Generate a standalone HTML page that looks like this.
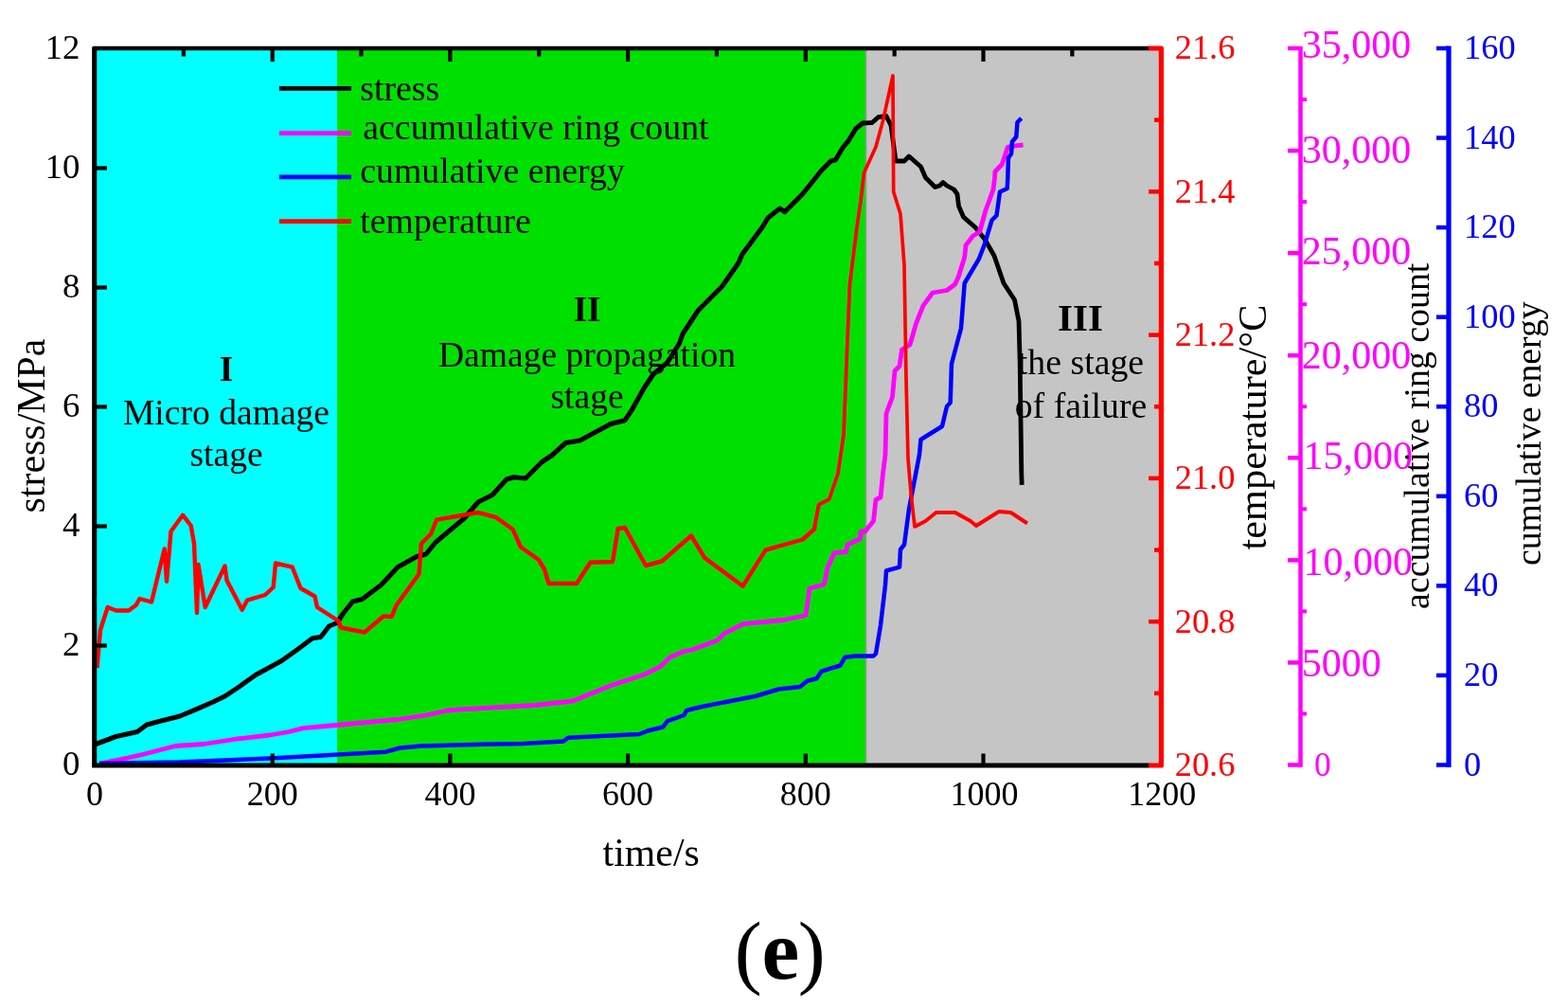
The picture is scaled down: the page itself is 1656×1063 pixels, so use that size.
<!DOCTYPE html>
<html lang="en"><head><meta charset="utf-8"><title>Figure (e)</title>
<style>html,body{margin:0;padding:0;background:#fff}body{width:1656px;height:1063px;overflow:hidden}svg{display:block}text{font-family:"Liberation Serif",serif;}</style></head><body>
<svg width="1656" height="1063" viewBox="0 0 1656 1063">
<rect width="1656" height="1063" fill="#fff"/>
<rect x="100" y="51" width="256" height="756.5" fill="#00ffff"/>
<rect x="356" y="51" width="558.6" height="756.5" fill="#00e000"/>
<rect x="914.6" y="51" width="311.80000000000007" height="756.5" fill="#c5c5c5"/>
<line x1="914.6" y1="51" x2="914.6" y2="807.5" stroke="#8f9a8f" stroke-width="1.5"/>
<text x="239" y="402" font-size="37.5" text-anchor="middle" fill="#000" font-weight="bold" >I</text>
<text x="239" y="448" font-size="37.6" text-anchor="middle" fill="#000" font-weight="normal" >Micro damage</text>
<text x="239" y="492" font-size="37.5" text-anchor="middle" fill="#000" font-weight="normal" >stage</text>
<text x="620" y="339" font-size="37.5" text-anchor="middle" fill="#000" font-weight="bold" >II</text>
<text x="620" y="387" font-size="37.6" text-anchor="middle" fill="#000" font-weight="normal" >Damage propagation</text>
<text x="620" y="431" font-size="37.5" text-anchor="middle" fill="#000" font-weight="normal" >stage</text>
<text x="1141" y="349" font-size="41" text-anchor="middle" fill="#000" font-weight="bold" >III</text>
<text x="1141.5" y="395.2" font-size="37.8" text-anchor="middle" fill="#000" font-weight="normal" >the stage</text>
<text x="1141.5" y="440.7" font-size="37.8" text-anchor="middle" fill="#000" font-weight="normal" >of failure</text>
<line x1="295" y1="93.3" x2="371" y2="93.3" stroke="#000" stroke-width="4.8"/>
<text x="380.3" y="106.4" font-size="37.8" text-anchor="start" fill="#000" font-weight="normal" >stress</text>
<line x1="295" y1="140.7" x2="371" y2="140.7" stroke="#ff00ff" stroke-width="4.8"/>
<text x="383.3" y="146.8" font-size="37.8" text-anchor="start" fill="#000" font-weight="normal" >accumulative ring count</text>
<line x1="295" y1="186.8" x2="371" y2="186.8" stroke="#0000ff" stroke-width="4.8"/>
<text x="380.3" y="192.8" font-size="37.8" text-anchor="start" fill="#000" font-weight="normal" >cumulative energy</text>
<line x1="295" y1="233.7" x2="371" y2="233.7" stroke="#ff0000" stroke-width="4.8"/>
<text x="380.3" y="245.8" font-size="37.8" text-anchor="start" fill="#000" font-weight="normal" >temperature</text>
<defs><clipPath id="cl"><rect x="0" y="0" width="863" height="1063"/></clipPath><clipPath id="cr"><rect x="863" y="0" width="104" height="1063"/></clipPath><clipPath id="cr3"><rect x="967" y="0" width="700" height="1063"/></clipPath><clipPath id="cl2"><rect x="0" y="0" width="914" height="1063"/></clipPath><clipPath id="cr2"><rect x="914" y="0" width="800" height="1063"/></clipPath></defs>
<g clip-path="url(#cl2)"><polyline points="100.5,786 102.5,785 122.5,777.5 145,772.5 155,765 170,761 190,756 207.5,748.7 225,741 237.5,735 252.5,725 270,712.5 297.5,697.5 315,685 330,673.7 338.7,672.5 347.5,661 356,657.5 362.5,647.5 372.5,635 382.5,632.5 402.5,617.5 420,598.7 440,587.5 450,585 460,572.5 490,547.5 505,530 520,522.5 535,506 542.5,503.7 555,505 572.5,487.5 582.5,481 597.5,467.5 612.5,465 645,447.5 660,443.7 667.5,432.5 680,410 690,395 705,382.5 717.5,362.5 721,352.5 737.5,327.5 762.5,302.5 780,277.5 783.7,268.7 805,240 811,230 823.7,220 828.7,223.7 847.5,205 867.5,180 877.5,170 882.5,168.7 890,156 896,148.7 903.7,136 911,130 921,129.5 927.5,123.7 936,122.5 941,132.5 946,170 955,170 960,165 972.5,176 977.5,187.5 987.5,197.5 992.5,196 996,192.5 1000,196 1007.5,200 1011,205 1012.5,217.5 1017.5,229 1030,240 1040,252.5 1050,270 1060,299 1071.5,316.5 1076,339 1077.2,384 1078.8,500 1079.2,511.8" fill="none" stroke="#000" stroke-width="5.1" stroke-linejoin="round" stroke-linecap="butt"/></g>
<g clip-path="url(#cr2)"><polyline points="100.5,786 102.5,785 122.5,777.5 145,772.5 155,765 170,761 190,756 207.5,748.7 225,741 237.5,735 252.5,725 270,712.5 297.5,697.5 315,685 330,673.7 338.7,672.5 347.5,661 356,657.5 362.5,647.5 372.5,635 382.5,632.5 402.5,617.5 420,598.7 440,587.5 450,585 460,572.5 490,547.5 505,530 520,522.5 535,506 542.5,503.7 555,505 572.5,487.5 582.5,481 597.5,467.5 612.5,465 645,447.5 660,443.7 667.5,432.5 680,410 690,395 705,382.5 717.5,362.5 721,352.5 737.5,327.5 762.5,302.5 780,277.5 783.7,268.7 805,240 811,230 823.7,220 828.7,223.7 847.5,205 867.5,180 877.5,170 882.5,168.7 890,156 896,148.7 903.7,136 911,130 921,129.5 927.5,123.7 936,122.5 941,132.5 946,170 955,170 960,165 972.5,176 977.5,187.5 987.5,197.5 992.5,196 996,192.5 1000,196 1007.5,200 1011,205 1012.5,217.5 1017.5,229 1030,240 1040,252.5 1050,270 1060,299 1071.5,316.5 1076,339 1077.2,384 1078.8,500 1079.2,511.8" fill="none" stroke="#000" stroke-width="4.8" stroke-linejoin="round" stroke-linecap="butt"/></g>
<polyline points="105,806 135,800 152.5,796 185,787.5 215,785.5 250,780 285,776 305,772.5 320,768.7 355,765.5 420,759.5 450,755 472.5,750 490,748.7 565,744.5 605,740 645,723.7 682.5,711.2 697.5,703.7 707.5,693.7 722.5,687.5 731,686 757.5,676 765,668.7 785,658.7 827.5,654.5 851,649.5 855,621 869,617.5 871,615 873.7,600 881,583.7 893.7,582.5 895,575 908.7,568.7 909,561 913.7,561 922.5,550 925,527.5 930,525 932.5,500 935,480 936,436.5 942.5,419 945,391.5 950,386.5 952.5,369 961,364 967.5,341.5 975,322.7 985,309 1000,306.5 1008.7,300 1012.5,291.5 1018.7,271.5 1020,259 1027.5,249 1034.5,245 1041,222 1044.5,212.5 1049,200 1050.5,188 1051,181 1058.2,173.5 1061.8,162.7 1064.3,155.4 1074,153.6 1080.5,153" fill="none" stroke="#ff00ff" stroke-width="4.8" stroke-linejoin="round" stroke-linecap="butt"/>
<polyline points="105,806 190,804.5 285,800.5 340,797.5 407.5,793.7 422.5,789.5 445,787.5 490,786.2 552.5,785 595,782.5 600,778.7 650,776.2 675,775 685,771.2 700,767.5 705,761.2 722.5,755 725,750 740,746.2 797.5,735 822.5,727.5 845,725 852.5,718.7 862.5,716.2 867.5,708.7 887.5,702.5 892.5,693.7 903.5,692.5 922.5,692.5 925,690 930,660 935,617.5 936,602.5 950,598.7 951,580 955,575 960,537.5 971,480 972.5,464 995,450 1000,429 1003.7,425 1005,384 1015,346.5 1018.7,299 1022.5,292.5 1033.7,273.7 1040,257.5 1047.5,232.5 1052.5,227.5 1056,202.5 1063.7,199 1064.3,188 1065,166.5 1068,162.5 1069,149.5 1073.3,144.5 1074.5,129 1078.7,124.8" fill="none" stroke="#0000ff" stroke-width="4.5" stroke-linejoin="round" stroke-linecap="butt"/>
<g clip-path="url(#cl)"><polyline points="102.5,705 106,665 113.7,641 122.5,644.5 136,644.5 143.7,638.7 147.5,632 160,635.5 173.7,579.5 176,613.7 180.5,561 193,543.7 201.7,555 205,573.7 208,647 209.5,596 216.7,641 237.5,597.5 239.5,612.5 255.7,643.7 261,633.7 280,628 288.7,620 291,594.5 308.7,598.7 317.5,621 332.5,629.5 335,641 357.5,655.5 360,662.5 385,667.5 405,650.5 413.7,651 418.7,638.7 442.5,606 445,573.7 455,563.7 461,548.7 505,541 524,546.2 541.5,558.7 550,577.5 569,591 575,601 579.5,616 609,616 623.5,593.7 647,593 652.7,558 660,557 682,597 699,592.5 730,565.5 744,588.7 784.5,618.7 808.5,580.7 847.7,569.5 860,558.7 865,532.5 875.7,527 885,500 891,459 895,359 897.5,300 905,240 909,212 912.5,182.5 925,155 932.5,127.5 943,80 943.7,202.5 951,226 955,280 957,400 959,484 962,520 966,556 977.5,550 988.7,541 1008.7,541 1025,550 1031,555 1055,540 1067.5,541 1085,552.5" fill="none" stroke="#ff0000" stroke-width="4.4" stroke-linejoin="round" stroke-linecap="butt"/></g>
<g clip-path="url(#cr)"><polyline points="102.5,705 106,665 113.7,641 122.5,644.5 136,644.5 143.7,638.7 147.5,632 160,635.5 173.7,579.5 176,613.7 180.5,561 193,543.7 201.7,555 205,573.7 208,647 209.5,596 216.7,641 237.5,597.5 239.5,612.5 255.7,643.7 261,633.7 280,628 288.7,620 291,594.5 308.7,598.7 317.5,621 332.5,629.5 335,641 357.5,655.5 360,662.5 385,667.5 405,650.5 413.7,651 418.7,638.7 442.5,606 445,573.7 455,563.7 461,548.7 505,541 524,546.2 541.5,558.7 550,577.5 569,591 575,601 579.5,616 609,616 623.5,593.7 647,593 652.7,558 660,557 682,597 699,592.5 730,565.5 744,588.7 784.5,618.7 808.5,580.7 847.7,569.5 860,558.7 865,532.5 875.7,527 885,500 891,459 895,359 897.5,300 905,240 909,212 912.5,182.5 925,155 932.5,127.5 943,80 943.7,202.5 951,226 955,280 957,400 959,484 962,520 966,556 977.5,550 988.7,541 1008.7,541 1025,550 1031,555 1055,540 1067.5,541 1085,552.5" fill="none" stroke="#ff0000" stroke-width="3.7" stroke-linejoin="round" stroke-linecap="butt"/></g>
<g clip-path="url(#cr3)"><polyline points="102.5,705 106,665 113.7,641 122.5,644.5 136,644.5 143.7,638.7 147.5,632 160,635.5 173.7,579.5 176,613.7 180.5,561 193,543.7 201.7,555 205,573.7 208,647 209.5,596 216.7,641 237.5,597.5 239.5,612.5 255.7,643.7 261,633.7 280,628 288.7,620 291,594.5 308.7,598.7 317.5,621 332.5,629.5 335,641 357.5,655.5 360,662.5 385,667.5 405,650.5 413.7,651 418.7,638.7 442.5,606 445,573.7 455,563.7 461,548.7 505,541 524,546.2 541.5,558.7 550,577.5 569,591 575,601 579.5,616 609,616 623.5,593.7 647,593 652.7,558 660,557 682,597 699,592.5 730,565.5 744,588.7 784.5,618.7 808.5,580.7 847.7,569.5 860,558.7 865,532.5 875.7,527 885,500 891,459 895,359 897.5,300 905,240 909,212 912.5,182.5 925,155 932.5,127.5 943,80 943.7,202.5 951,226 955,280 957,400 959,484 962,520 966,556 977.5,550 988.7,541 1008.7,541 1025,550 1031,555 1055,540 1067.5,541 1085,552.5" fill="none" stroke="#ff0000" stroke-width="4.0" stroke-linejoin="round" stroke-linecap="butt"/></g>
<path d="M99.7,810 V49.5" fill="none" stroke="#000" stroke-width="5.1"/>
<path d="M98,51 H1213.5" fill="none" stroke="#000" stroke-width="4.4"/>
<path d="M97.2,808 H1213.5" fill="none" stroke="#000" stroke-width="5"/>
<line x1="193.85" y1="51" x2="193.85" y2="59.5" stroke="#000" stroke-width="4.2"/>
<line x1="287.7" y1="807.5" x2="287.7" y2="795.5" stroke="#000" stroke-width="4.2"/>
<line x1="287.7" y1="51" x2="287.7" y2="65" stroke="#000" stroke-width="4.2"/>
<line x1="381.54999999999995" y1="51" x2="381.54999999999995" y2="59.5" stroke="#000" stroke-width="4.2"/>
<line x1="475.4" y1="807.5" x2="475.4" y2="795.5" stroke="#000" stroke-width="4.2"/>
<line x1="475.4" y1="51" x2="475.4" y2="65" stroke="#000" stroke-width="4.2"/>
<line x1="569.25" y1="51" x2="569.25" y2="59.5" stroke="#000" stroke-width="4.2"/>
<line x1="663.0999999999999" y1="807.5" x2="663.0999999999999" y2="795.5" stroke="#000" stroke-width="4.2"/>
<line x1="663.0999999999999" y1="51" x2="663.0999999999999" y2="65" stroke="#000" stroke-width="4.2"/>
<line x1="756.9499999999999" y1="51" x2="756.9499999999999" y2="59.5" stroke="#000" stroke-width="4.2"/>
<line x1="850.8" y1="807.5" x2="850.8" y2="795.5" stroke="#000" stroke-width="4.2"/>
<line x1="850.8" y1="51" x2="850.8" y2="65" stroke="#000" stroke-width="4.2"/>
<line x1="944.65" y1="51" x2="944.65" y2="59.5" stroke="#000" stroke-width="4.2"/>
<line x1="1038.5" y1="807.5" x2="1038.5" y2="795.5" stroke="#000" stroke-width="4.2"/>
<line x1="1038.5" y1="51" x2="1038.5" y2="65" stroke="#000" stroke-width="4.2"/>
<line x1="1132.35" y1="51" x2="1132.35" y2="59.5" stroke="#000" stroke-width="4.2"/>
<text x="100.0" y="850.1" font-size="36" text-anchor="middle" fill="#000" font-weight="normal" >0</text>
<text x="287.7" y="850.1" font-size="36" text-anchor="middle" fill="#000" font-weight="normal" >200</text>
<text x="475.4" y="850.1" font-size="36" text-anchor="middle" fill="#000" font-weight="normal" >400</text>
<text x="663.0999999999999" y="850.1" font-size="36" text-anchor="middle" fill="#000" font-weight="normal" >600</text>
<text x="850.8" y="850.1" font-size="36" text-anchor="middle" fill="#000" font-weight="normal" >800</text>
<text x="1039.5" y="850.1" font-size="36" text-anchor="middle" fill="#000" font-weight="normal" >1000</text>
<text x="1227.1999999999998" y="850.1" font-size="36" text-anchor="middle" fill="#000" font-weight="normal" >1200</text>
<text x="84.3" y="817.7" font-size="36.8" text-anchor="end" fill="#000" font-weight="normal" >0</text>
<line x1="100" y1="681.5" x2="113" y2="681.5" stroke="#000" stroke-width="4.2"/>
<text x="84.3" y="691.7" font-size="36.8" text-anchor="end" fill="#000" font-weight="normal" >2</text>
<line x1="100" y1="555.5" x2="113" y2="555.5" stroke="#000" stroke-width="4.2"/>
<text x="84.3" y="565.7" font-size="36.8" text-anchor="end" fill="#000" font-weight="normal" >4</text>
<line x1="100" y1="429.5" x2="113" y2="429.5" stroke="#000" stroke-width="4.2"/>
<text x="84.3" y="439.7" font-size="36.8" text-anchor="end" fill="#000" font-weight="normal" >6</text>
<line x1="100" y1="303.5" x2="113" y2="303.5" stroke="#000" stroke-width="4.2"/>
<text x="84.3" y="313.7" font-size="36.8" text-anchor="end" fill="#000" font-weight="normal" >8</text>
<line x1="100" y1="177.5" x2="113" y2="177.5" stroke="#000" stroke-width="4.2"/>
<text x="84.3" y="187.7" font-size="36.8" text-anchor="end" fill="#000" font-weight="normal" >10</text>
<text x="84.3" y="61.7" font-size="36.8" text-anchor="end" fill="#000" font-weight="normal" >12</text>
<path d="M1213,51 H1226.4 V808 H1213" fill="none" stroke="#ff0000" stroke-width="5.2" stroke-linejoin="round"/>
<text x="1240.7" y="818.9" font-size="36.4" text-anchor="start" fill="#ff0000" font-weight="normal" >20.6</text>
<line x1="1219" y1="731.85" x2="1226.4" y2="731.85" stroke="#ff0000" stroke-width="4.5"/>
<line x1="1213" y1="656.2" x2="1226.4" y2="656.2" stroke="#ff0000" stroke-width="4.5"/>
<text x="1240.7" y="667.6" font-size="36.4" text-anchor="start" fill="#ff0000" font-weight="normal" >20.8</text>
<line x1="1219" y1="580.55" x2="1226.4" y2="580.55" stroke="#ff0000" stroke-width="4.5"/>
<line x1="1213" y1="504.9" x2="1226.4" y2="504.9" stroke="#ff0000" stroke-width="4.5"/>
<text x="1240.7" y="516.3" font-size="36.4" text-anchor="start" fill="#ff0000" font-weight="normal" >21.0</text>
<line x1="1219" y1="429.25" x2="1226.4" y2="429.25" stroke="#ff0000" stroke-width="4.5"/>
<line x1="1213" y1="353.59999999999997" x2="1226.4" y2="353.59999999999997" stroke="#ff0000" stroke-width="4.5"/>
<text x="1240.7" y="364.99999999999994" font-size="36.4" text-anchor="start" fill="#ff0000" font-weight="normal" >21.2</text>
<line x1="1219" y1="277.94999999999993" x2="1226.4" y2="277.94999999999993" stroke="#ff0000" stroke-width="4.5"/>
<line x1="1213" y1="202.29999999999995" x2="1226.4" y2="202.29999999999995" stroke="#ff0000" stroke-width="4.5"/>
<text x="1240.7" y="213.69999999999996" font-size="36.4" text-anchor="start" fill="#ff0000" font-weight="normal" >21.4</text>
<line x1="1219" y1="126.64999999999998" x2="1226.4" y2="126.64999999999998" stroke="#ff0000" stroke-width="4.5"/>
<text x="1240.7" y="62.4" font-size="36.4" text-anchor="start" fill="#ff0000" font-weight="normal" >21.6</text>
<line x1="1373.5" y1="49" x2="1373.5" y2="810.0" stroke="#ff00ff" stroke-width="4.5"/>
<line x1="1360" y1="807.5" x2="1373.5" y2="807.5" stroke="#ff00ff" stroke-width="4.5"/>
<text x="1388" y="818.5" font-size="35.5" text-anchor="start" fill="#ff00ff" font-weight="normal" >0</text>
<line x1="1373.5" y1="753.4642857142857" x2="1380" y2="753.4642857142857" stroke="#ff00ff" stroke-width="4"/>
<line x1="1360" y1="699.4285714285714" x2="1373.5" y2="699.4285714285714" stroke="#ff00ff" stroke-width="4.5"/>
<text x="1374.8" y="714.4285714285714" font-size="42" text-anchor="start" fill="#ff00ff" font-weight="normal" >5000</text>
<line x1="1373.5" y1="645.3928571428571" x2="1380" y2="645.3928571428571" stroke="#ff00ff" stroke-width="4"/>
<line x1="1360" y1="591.3571428571429" x2="1373.5" y2="591.3571428571429" stroke="#ff00ff" stroke-width="4.5"/>
<text x="1376.3999999999999" y="607.3571428571429" font-size="42" text-anchor="start" fill="#ff00ff" font-weight="normal" >10,000</text>
<line x1="1373.5" y1="537.3214285714286" x2="1380" y2="537.3214285714286" stroke="#ff00ff" stroke-width="4"/>
<line x1="1360" y1="483.2857142857143" x2="1373.5" y2="483.2857142857143" stroke="#ff00ff" stroke-width="4.5"/>
<text x="1376.3999999999999" y="495.2857142857143" font-size="42" text-anchor="start" fill="#ff00ff" font-weight="normal" >15,000</text>
<line x1="1373.5" y1="429.25" x2="1380" y2="429.25" stroke="#ff00ff" stroke-width="4"/>
<line x1="1360" y1="375.2142857142857" x2="1373.5" y2="375.2142857142857" stroke="#ff00ff" stroke-width="4.5"/>
<text x="1374.8" y="388.51428571428573" font-size="42" text-anchor="start" fill="#ff00ff" font-weight="normal" >20,000</text>
<line x1="1373.5" y1="321.17857142857144" x2="1380" y2="321.17857142857144" stroke="#ff00ff" stroke-width="4"/>
<line x1="1360" y1="267.1428571428571" x2="1373.5" y2="267.1428571428571" stroke="#ff00ff" stroke-width="4.5"/>
<text x="1374.8" y="279.4428571428571" font-size="42" text-anchor="start" fill="#ff00ff" font-weight="normal" >25,000</text>
<line x1="1373.5" y1="213.1071428571429" x2="1380" y2="213.1071428571429" stroke="#ff00ff" stroke-width="4"/>
<line x1="1360" y1="159.07142857142856" x2="1373.5" y2="159.07142857142856" stroke="#ff00ff" stroke-width="4.5"/>
<text x="1374.8" y="171.77142857142854" font-size="42" text-anchor="start" fill="#ff00ff" font-weight="normal" >30,000</text>
<line x1="1373.5" y1="105.03571428571433" x2="1380" y2="105.03571428571433" stroke="#ff00ff" stroke-width="4"/>
<line x1="1360" y1="51.0" x2="1373.5" y2="51.0" stroke="#ff00ff" stroke-width="4.5"/>
<text x="1374.8" y="61.0" font-size="42" text-anchor="start" fill="#ff00ff" font-weight="normal" >35,000</text>
<line x1="1530" y1="48.5" x2="1530" y2="810.0" stroke="#0000ff" stroke-width="5.2"/>
<line x1="1517" y1="807.5" x2="1530" y2="807.5" stroke="#0000ff" stroke-width="4.5"/>
<text x="1546" y="818.5" font-size="36.4" text-anchor="start" fill="#0000ff" font-weight="normal" >0</text>
<line x1="1517" y1="712.9375" x2="1530" y2="712.9375" stroke="#0000ff" stroke-width="4.5"/>
<text x="1546" y="723.9375" font-size="36.4" text-anchor="start" fill="#0000ff" font-weight="normal" >20</text>
<line x1="1517" y1="618.375" x2="1530" y2="618.375" stroke="#0000ff" stroke-width="4.5"/>
<text x="1546" y="629.375" font-size="36.4" text-anchor="start" fill="#0000ff" font-weight="normal" >40</text>
<line x1="1517" y1="523.8125" x2="1530" y2="523.8125" stroke="#0000ff" stroke-width="4.5"/>
<text x="1546" y="534.8125" font-size="36.4" text-anchor="start" fill="#0000ff" font-weight="normal" >60</text>
<line x1="1517" y1="429.25" x2="1530" y2="429.25" stroke="#0000ff" stroke-width="4.5"/>
<text x="1546" y="440.25" font-size="36.4" text-anchor="start" fill="#0000ff" font-weight="normal" >80</text>
<line x1="1517" y1="334.6875" x2="1530" y2="334.6875" stroke="#0000ff" stroke-width="4.5"/>
<text x="1546" y="345.6875" font-size="36.4" text-anchor="start" fill="#0000ff" font-weight="normal" >100</text>
<line x1="1517" y1="240.125" x2="1530" y2="240.125" stroke="#0000ff" stroke-width="4.5"/>
<text x="1546" y="251.125" font-size="36.4" text-anchor="start" fill="#0000ff" font-weight="normal" >120</text>
<line x1="1517" y1="145.5625" x2="1530" y2="145.5625" stroke="#0000ff" stroke-width="4.5"/>
<text x="1546" y="156.5625" font-size="36.4" text-anchor="start" fill="#0000ff" font-weight="normal" >140</text>
<line x1="1517" y1="51.0" x2="1530" y2="51.0" stroke="#0000ff" stroke-width="4.5"/>
<text x="1546" y="62.0" font-size="36.4" text-anchor="start" fill="#0000ff" font-weight="normal" >160</text>
<text x="687.7" y="914" font-size="41.8" text-anchor="middle" fill="#000" font-weight="normal" >time/s</text>
<text transform="translate(46.7,449.5) rotate(-90)" font-size="41.9" text-anchor="middle" fill="#000">stress/MPa</text>
<text transform="translate(1336.5,451) rotate(-90)" font-size="42.3" text-anchor="middle" fill="#000">temperature/°C</text>
<text transform="translate(1509,460.3) rotate(-90)" font-size="37.8" text-anchor="middle" fill="#000">accumulative ring count</text>
<text transform="translate(1626.5,457.7) rotate(-90)" font-size="37.7" text-anchor="middle" fill="#000">cumulative energy</text>
<text y="1032.9" fill="#000"><tspan x="775.8" font-size="86.9" font-weight="normal">(</tspan><tspan x="804.6" font-size="89.5" font-weight="bold">e</tspan><tspan x="842.7" font-size="86.9" font-weight="normal">)</tspan></text>
</svg></body></html>
